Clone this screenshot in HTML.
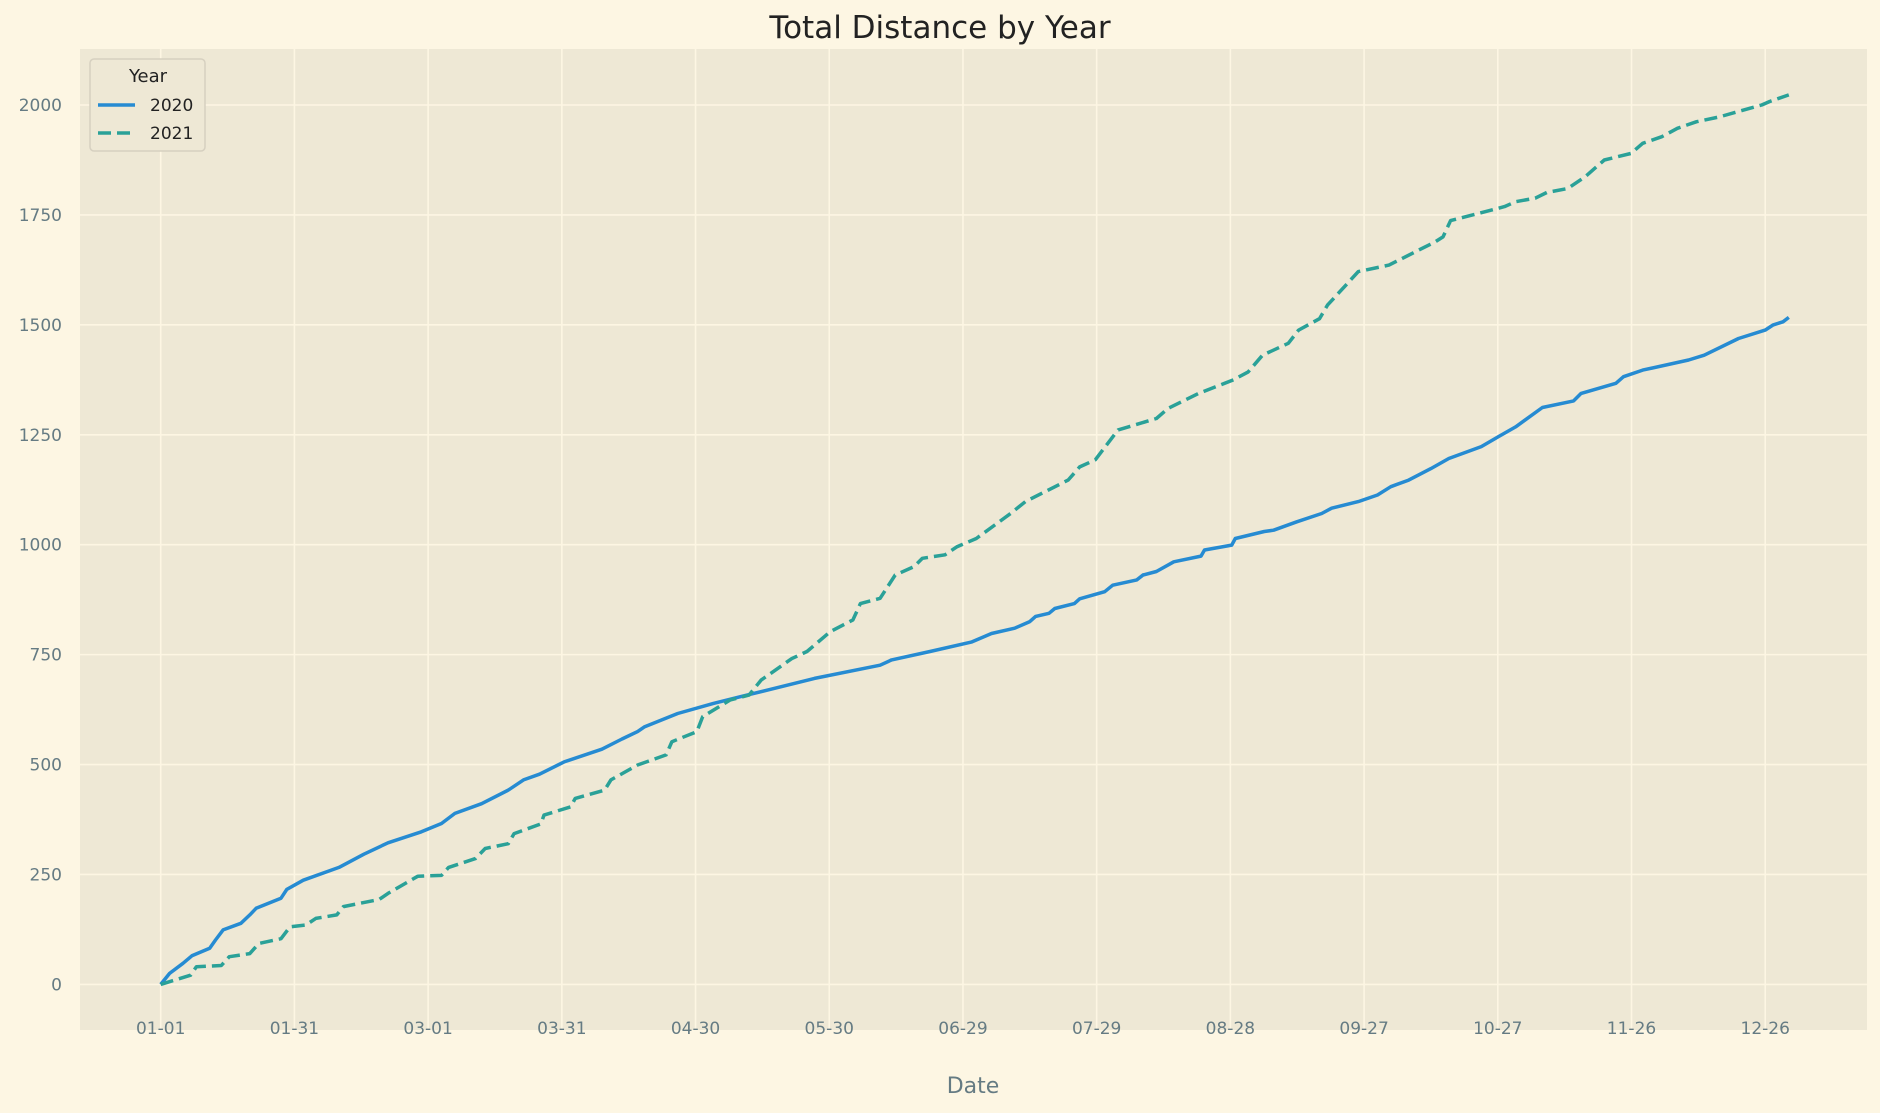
<!DOCTYPE html>
<html><head><meta charset="utf-8"><style>
body{margin:0;background:#fdf6e3;}
svg{display:block;font-family:"DejaVu Sans","Liberation Sans",sans-serif;}
</style></head><body>
<svg id="chart" width="1880" height="1113" viewBox="0 0 1880 1113">
<rect x="0" y="0" width="1880" height="1113" fill="#fdf6e3"/>
<rect x="80" y="49" width="1787" height="981" fill="#eee8d5"/>
<g id="grid"></g>
<g id="series"></g>
<g id="ticks"></g>
<text x="940" y="38" text-anchor="middle" font-size="31" fill="#222">Total Distance by Year</text>
<text x="973" y="1093" text-anchor="middle" font-size="22" fill="#657b83">Date</text>
<g>
<rect x="90" y="59" width="115" height="92" rx="4" fill="#eee8d5" stroke="#d6d0c0" stroke-width="1.5"/>
<text x="148" y="82" text-anchor="middle" font-size="18" fill="#222">Year</text>
<line x1="98" y1="105" x2="135" y2="105" stroke="#268bd2" stroke-width="3.5"/>
<text x="150" y="111" font-size="17" fill="#222">2020</text>
<line x1="98" y1="133" x2="135" y2="133" stroke="#2aa198" stroke-width="3.5" stroke-dasharray="13,6"/>
<text x="150" y="139" font-size="17" fill="#222">2021</text>
</g>
</svg>
<script>
const days2020=[0,2,5,7,11,12.3,14,18,20,21.4,27,28.3,32,40,45.6,51,58.5,63,66,72,78,81.4,85,90.5,99,103.5,107,108.6,116,124,130.3,136.4,146.7,161.4,164,172.6,182,186.4,191.6,195,196.3,199.3,200.6,205,206.2,211.8,213.6,219,220.4,223.4,227.3,233.4,234.2,240.3,241.1,247.6,249.7,254.9,260.5,262.7,268.7,273,276,280,285,289,296.3,300.2,304,310,317,318.7,326.5,328.2,332.5,342.8,346.3,354,360,361.8,364,365.3];
const dist2020=[0,25,48,65,82,101,124,139,158,173,196,216,237,266,296,322,347,366,389,411,442,465,478,506,535,558,575,586,616,639,655,670,696,726,738,757,779,798,810,825,837,844,855,866,877,893,908,920,931,939,961,974,988,999,1014,1030,1033,1052,1071,1083,1098,1113,1132,1147,1173,1196,1223,1246,1268,1312,1327,1344,1367,1382,1397,1420,1431,1469,1488,1500,1507,1517];
const days2021=[0,6.7,8,13.6,15.4,20,22,27,29,32.6,34.8,39.5,41,49,51,57.7,63,64.6,70.6,72.8,78,79.3,85.3,86,92,93,99.6,101,107,113.4,114.7,120.3,121.6,127.8,132,134.7,141.6,145,150.2,155.3,157,161.4,164.8,169,170.9,176,178.6,183,190.7,194,203.6,206.2,209.7,214.8,223.4,226,232.9,240.7,244,247.2,253,255.3,260,261.8,268.7,275.6,286,287.7,289.4,296.3,301.5,304,308.4,311,315.7,319.6,323.9,329.9,332.5,336.8,340.3,344.6,349.7,359.2,361,365.3];
const dist2021=[0,21,40,43,63,70,93,104,131,135,150,158,177,193,207,246,248,266,286,309,320,343,365,385,404,423,442,465,499,522,552,575,609,647,658,692,741,757,802,829,866,878,931,950,969,977,995,1014,1071,1098,1147,1177,1193,1261,1287,1310,1344,1375,1393,1431,1458,1488,1514,1545,1621,1636,1689,1700,1737,1755,1769,1780,1788,1801,1810,1837,1875,1890,1913,1928,1947,1962,1973,2000,2008,2023];
const xTickDays=[0,30,60,90,120,150,180,210,240,270,300,330,360];
const xTickLabels=["01-01","01-31","03-01","03-31","04-30","05-30","06-29","07-29","08-28","09-27","10-27","11-26","12-26"];
const yTickValues=[0,250,500,750,1000,1250,1500,1750,2000];

const NS="http://www.w3.org/2000/svg";
function xs(d){return 160.7+d*4.457;}
function ys(v){return 984.4-v*0.4397;}
const grid=document.getElementById('grid');
const ticks=document.getElementById('ticks');
const series=document.getElementById('series');
function mk(tag,attrs,parent){const e=document.createElementNS(NS,tag);for(const k in attrs)e.setAttribute(k,attrs[k]);parent.appendChild(e);return e;}
xTickDays.forEach((d,i)=>{
  const l=mk('line',{x1:xs(d),x2:xs(d),y1:49,y2:1030,stroke:'#fdf6e3','stroke-width':1.6},grid);
  
  
  const t=mk('text',{x:xs(d),y:1034,'text-anchor':'middle','font-size':17,fill:'#657b83'},ticks);
  
  
  t.textContent=xTickLabels[i];
});
yTickValues.forEach(v=>{
  const l=mk('line',{x1:80,x2:1867,y1:ys(v),y2:ys(v),stroke:'#fdf6e3','stroke-width':1.6},grid);
  
  
  const t=mk('text',{x:62,y:ys(v)+6,'text-anchor':'end','font-size':17,fill:'#657b83'},ticks);
  
  
  t.textContent=v;
});
function path(days,vals){return days.map((d,i)=>(i?'L':'M')+xs(d).toFixed(1)+','+ys(vals[i]).toFixed(1)).join(' ');}
const p1=mk('path',{d:path(days2020,dist2020),fill:'none',stroke:'#268bd2','stroke-width':3.5,'stroke-linejoin':'round'},series);


const p2=mk('path',{d:path(days2021,dist2021),fill:'none',stroke:'#2aa198','stroke-width':3.5,'stroke-dasharray':'13,6','stroke-linejoin':'round'},series);


</script>
</body></html>
